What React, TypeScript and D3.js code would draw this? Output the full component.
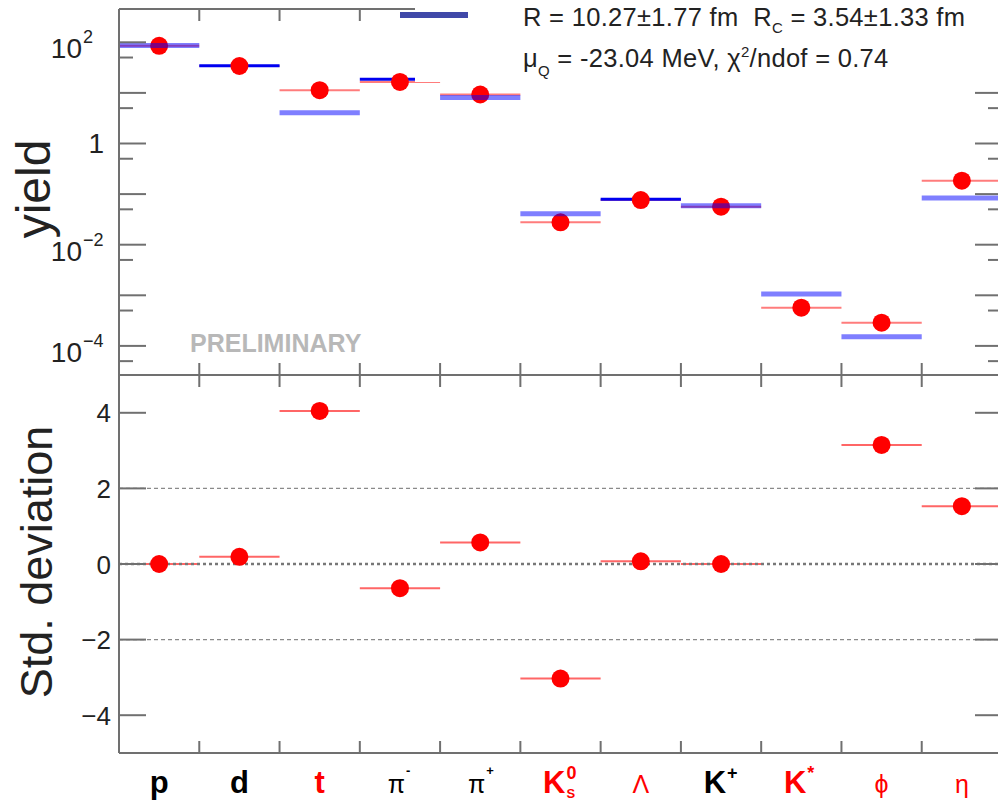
import React from "react";
import * as d3 from "d3";

// ---------- data ----------
const categories = ["p", "d", "t", "pi-", "pi+", "K0S", "Lambda", "K+", "K*", "phi", "eta"];
const labelBase = ["p", "d", "t", "π", "π", "K", "Λ", "K", "K", "ϕ", "η"];
const labelSup = ["", "", "", "-", "+", "0", "", "+", "*", "", ""];
const labelSub = ["", "", "", "", "", "S", "", "", "", "", ""];
const labelColor = ["#000", "#000", "#f00", "#000", "#000", "#f00", "#f00", "#000", "#f00", "#f00", "#f00"];

const dataYield = [85, 34, 11.3, 16.5, 9.3, 0.0277, 0.0764, 0.0564, 5.7e-4, 2.87e-4, 0.184];
const modelYield = [86, 34.5, 4.06, 18.6, 8.1, 0.041, 0.0788, 0.059, 1.06e-3, 1.52e-4, 0.0838];
const modelStyle = ["band", "line", "band", "line", "band", "band", "line", "band", "band", "band", "band"];
const deviation: (number | null)[] = [0.0, 0.19, 4.05, -0.64, 0.57, -3.03, 0.07, 0.0, null, 3.15, 1.53];

const topMajorTicks = [1e-4, 1e-3, 1e-2, 1e-1, 1, 10, 100];
const topMinorTicks = [5e-5, 5e-4, 5e-3, 5e-2, 0.5, 5, 50];
const topLabelTicks = [
  { v: 100, base: "10", exp: "2" },
  { v: 1, base: "1", exp: "" },
  { v: 0.01, base: "10", exp: "−2" },
  { v: 1e-4, base: "10", exp: "−4" },
];
const botTicks = [-4, -2, 0, 2, 4];
const botTickLabels = ["−4", "−2", "0", "2", "4"];
const gridDashed = [-2, 2];

const paramLine1 = { a: "R = 10.27±1.77 fm\u00a0\u00a0R", sub: "C", b: " = 3.54±1.33 fm" };
const paramLine2 = { a: "μ", sub: "Q", b: " = -23.04 MeV, χ", sup: "2", c: "/ndof = 0.74" };

// ---------- layout ----------
const W = 998, H = 802;
const X0 = 119, X1 = 1002;
const TOP_Y0 = 9, TOP_Y1 = 375, BOT_Y1 = 753;
const FONT = "'Liberation Sans', Arial, Helvetica, sans-serif";
const FRAME = "#707070";

export default function App() {
  const x = d3.scaleBand<string>().domain(categories).range([X0, X1]).paddingInner(0).paddingOuter(0);
  const yTop = d3.scaleLog().domain([Math.pow(10, -4.575), Math.pow(10, 2.658)]).range([TOP_Y1, TOP_Y0]);
  const yBot = d3.scaleLinear().domain([-5, 5]).range([BOT_Y1, TOP_Y1]);
  const bw = x.bandwidth();
  const edges = categories.map((c) => x(c)!).concat([X1]);

  return (
    <svg width={W} height={H} style={{ position: "absolute", left: 0, top: 0, background: "#fff" }} fontFamily={FONT}>
      <rect width={W} height={H} fill="#fff" />

      {/* ---------- TOP PANEL ---------- */}
      {categories.map((c, i) => (
        <line key={"dl" + i} x1={x(c)} x2={x(c)! + bw} y1={yTop(dataYield[i])} y2={yTop(dataYield[i])} stroke="#ff5050" strokeOpacity={0.75} strokeWidth={2} />
      ))}
      {categories.map((c, i) =>
        modelStyle[i] === "line" ? (
          <line key={"ml" + i} x1={x(c)} x2={x(c)! + bw} y1={yTop(modelYield[i])} y2={yTop(modelYield[i])} stroke="#0000f0" strokeWidth={3} />
        ) : null
      )}
      {categories.map((c, i) => (
        <circle key={"dp" + i} cx={x(c)! + bw / 2} cy={yTop(dataYield[i])} r={9} fill="#ff0000" />
      ))}
      {categories.map((c, i) =>
        modelStyle[i] === "band" ? (
          <line key={"mb" + i} x1={x(c)} x2={x(c)! + bw} y1={yTop(modelYield[i])} y2={yTop(modelYield[i])} stroke="#0000ff" strokeOpacity={0.5} strokeWidth={5} />
        ) : null
      )}

      {topMajorTicks.map((v, i) => (
        <g key={"tmj" + i}>
          <line x1={X0} x2={X0 + 27} y1={yTop(v)} y2={yTop(v)} stroke={FRAME} strokeWidth={2} />
          <line x1={X1} x2={X1 - 27} y1={yTop(v)} y2={yTop(v)} stroke={FRAME} strokeWidth={2} />
        </g>
      ))}
      {topMinorTicks.map((v, i) => (
        <g key={"tmn" + i}>
          <line x1={X0} x2={X0 + 14} y1={yTop(v)} y2={yTop(v)} stroke={FRAME} strokeWidth={2} />
          <line x1={X1} x2={X1 - 14} y1={yTop(v)} y2={yTop(v)} stroke={FRAME} strokeWidth={2} />
        </g>
      ))}
      {edges.slice(1, -1).map((e, i) => (
        <g key={"txt" + i}>
          <line x1={e} x2={e} y1={TOP_Y0} y2={TOP_Y0 + 12} stroke={FRAME} strokeWidth={2} />
          <line x1={e} x2={e} y1={TOP_Y1} y2={TOP_Y1 - 12} stroke={FRAME} strokeWidth={2} />
        </g>
      ))}
      {topLabelTicks.map((t, i) =>
        t.exp ? (
          <g key={"tl" + i}>
            <text x={82} y={yTop(t.v) + 16} fontSize={28} textAnchor="end" fill="#222">{t.base}</text>
            <text x={83} y={yTop(t.v) + 1} fontSize={18} textAnchor="start" fill="#222">{t.exp}</text>
          </g>
        ) : (
          <text key={"tl" + i} x={104} y={yTop(t.v) + 10} fontSize={28} textAnchor="end" fill="#222">{t.base}</text>
        )
      )}
      <text transform={`translate(50,189) rotate(-90)`} fontSize={48} textAnchor="middle" fill="#222">yield</text>
      <text x={190} y={352} fontSize={25} fontWeight="bold" fill="#b8b8b8">PRELIMINARY</text>

      {/* ---------- BOTTOM PANEL ---------- */}
      {categories.map((c, i) =>
        deviation[i] === null ? null : (
          <line key={"bl" + i} x1={x(c)} x2={x(c)! + bw} y1={yBot(deviation[i]!)} y2={yBot(deviation[i]!)} stroke="#ff4040" strokeOpacity={0.8} strokeWidth={2} />
        )
      )}
      {gridDashed.map((v) => (
        <line key={"gd" + v} x1={X0} x2={X1} y1={yBot(v)} y2={yBot(v)} stroke="#8a8a8a" strokeWidth={1.2} strokeDasharray="4 3" />
      ))}
      <line x1={X0} x2={X1} y1={yBot(0)} y2={yBot(0)} stroke="#777" strokeWidth={2.5} strokeDasharray="3 3" />
      {categories.map((c, i) =>
        deviation[i] === null ? null : (
          <circle key={"bp" + i} cx={x(c)! + bw / 2} cy={yBot(deviation[i]!)} r={9} fill="#ff0000" />
        )
      )}
      {botTicks.map((v, i) => (
        <g key={"bt" + i}>
          <line x1={X0} x2={X0 + 27} y1={yBot(v)} y2={yBot(v)} stroke={FRAME} strokeWidth={2} />
          <line x1={X1} x2={X1 - 27} y1={yBot(v)} y2={yBot(v)} stroke={FRAME} strokeWidth={2} />
          <text x={111} y={yBot(v) + 9.5} fontSize={26} textAnchor="end" fill="#222">{botTickLabels[i]}</text>
        </g>
      ))}
      {edges.slice(1, -1).map((e, i) => (
        <g key={"bxt" + i}>
          <line x1={e} x2={e} y1={TOP_Y1} y2={TOP_Y1 + 12} stroke={FRAME} strokeWidth={2} />
          <line x1={e} x2={e} y1={BOT_Y1} y2={BOT_Y1 - 12} stroke={FRAME} strokeWidth={2} />
        </g>
      ))}
      <text transform={`translate(52,562) rotate(-90)`} fontSize={45} textAnchor="middle" fill="#222">Std. deviation</text>

      {/* frames */}
      <line x1={X0} x2={X0} y1={TOP_Y0} y2={BOT_Y1} stroke={FRAME} strokeWidth={2} />
      <line x1={X0} x2={X1} y1={TOP_Y1} y2={TOP_Y1} stroke={FRAME} strokeWidth={2} />
      <line x1={X0} x2={X1} y1={BOT_Y1} y2={BOT_Y1} stroke={FRAME} strokeWidth={2} />
      <line x1={X0} x2={X1} y1={TOP_Y0} y2={TOP_Y0} stroke={FRAME} strokeWidth={2} />

      {/* legend box (partially visible) */}
      <rect x={415} y={0} width={W - 415} height={82} fill="#fff" />
      <rect x={400} y={12} width={68} height={6} fill="#4048a8" />
      <text x={523} y={26} fontSize={25.5} letterSpacing={0.3} fill="#222">
        {paramLine1.a}
        <tspan fontSize={15} dy={7}>{paramLine1.sub}</tspan>
        <tspan dy={-7}>{paramLine1.b}</tspan>
      </text>
      <text x={523} y={67} fontSize={25.5} letterSpacing={0.3} fill="#222">
        {paramLine2.a}
        <tspan fontSize={15} dy={9}>{paramLine2.sub}</tspan>
        <tspan dy={-9}>{paramLine2.b}</tspan>
        <tspan fontSize={15} dy={-10}>{paramLine2.sup}</tspan>
        <tspan dy={10}>{paramLine2.c}</tspan>
      </text>

      {/* x category labels */}
      {categories.map((c, i) => {
        const cx = x(c)! + bw / 2;
        const greek = ["π", "Λ", "ϕ", "η"].includes(labelBase[i]);
        const hasExtra = labelSup[i] || labelSub[i];
        return (
          <g key={"xl" + i} fill={labelColor[i]}>
            <text x={hasExtra ? cx + 5 : cx} y={793} fontSize={greek ? 25 : 31} fontWeight={greek ? "normal" : "bold"} textAnchor={hasExtra ? "end" : "middle"}>
              {labelBase[i]}
            </text>
            {labelSup[i] ? (
              <text x={cx + 6} y={labelBase[i] === "π" ? 775 : 779} fontSize={labelBase[i] === "π" ? 13 : 18} fontWeight="bold" textAnchor="start">{labelSup[i]}</text>
            ) : null}
            {labelSub[i] ? (
              <text x={cx + 6} y={798} fontSize={13} fontWeight="bold" textAnchor="start">{labelSub[i]}</text>
            ) : null}
          </g>
        );
      })}
    </svg>
  );
}
